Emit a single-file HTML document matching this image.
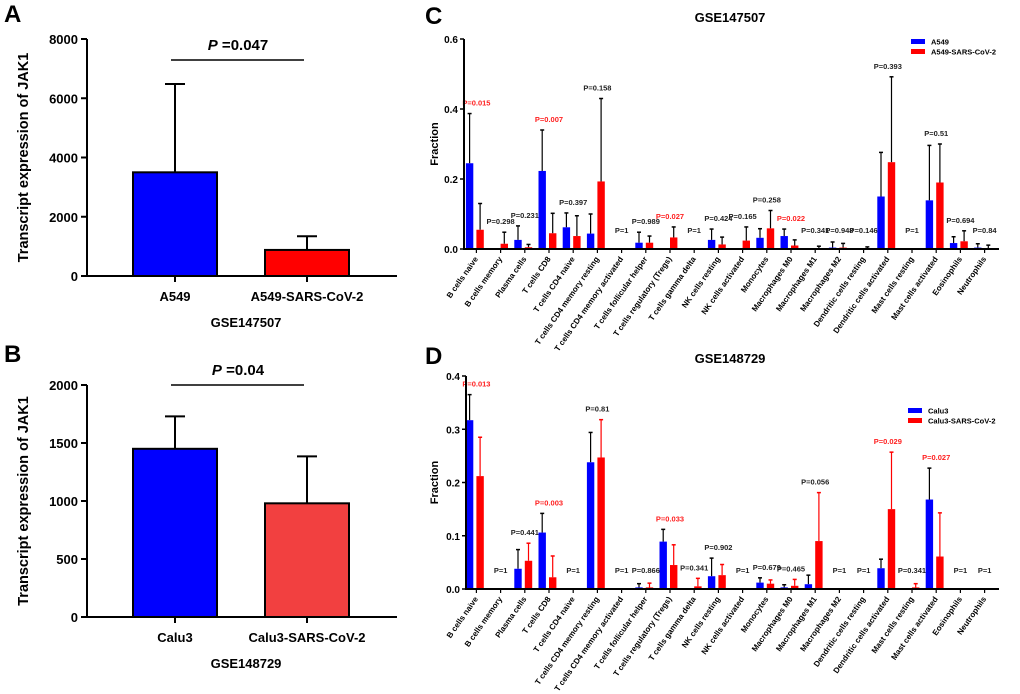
<!DOCTYPE html>
<html><head><meta charset="utf-8">
<style>
body{margin:0;background:#fff;}
svg{display:block;font-family:"Liberation Sans",Arial,sans-serif;font-weight:bold;}
</style></head>
<body>
<svg id="fig" width="1020" height="694" viewBox="0 0 1020 694" xmlns="http://www.w3.org/2000/svg"></svg>
<script>
// Panel A/B data
const abGroupsA = ["A549","A549-SARS-CoV-2"];
const abValuesA = [3500, 880];
const abErrA = [6480, 1340];
const abTicksA = [0,2000,4000,6000,8000];
const abGroupsB = ["Calu3","Calu3-SARS-CoV-2"];
const abValuesB = [1450, 980];
const abErrB = [1730, 1385];
const abTicksB = [0,500,1000,1500,2000];

// Panel C/D data
const cellTypes = ["B cells naive","B cells memory","Plasma cells","T cells CD8","T cells CD4 naive","T cells CD4 memory resting","T cells CD4 memory activated","T cells follicular helper","T cells regulatory (Tregs)","T cells gamma delta","NK cells resting","NK cells activated","Monocytes","Macrophages M0","Macrophages M1","Macrophages M2","Dendritic cells resting","Dendritic cells activated","Mast cells resting","Mast cells activated","Eosinophils","Neutrophils"];
const cCtrl = [0.245,0,0.026,0.223,0.062,0.044,0,0.018,0,0,0.026,0,0.032,0.037,0,0.004,0,0.15,0,0.139,0.017,0.004];
const cCtrlErr = [0.387,0,0.066,0.34,0.103,0.1,0,0.048,0,0,0.057,0,0.058,0.057,0,0.02,0,0.276,0,0.296,0.035,0.015];
const cInf = [0.055,0.015,0.005,0.045,0.037,0.193,0,0.018,0.033,0,0.013,0.024,0.059,0.01,0.002,0.004,0.002,0.248,0,0.19,0.022,0.002];
const cInfErr = [0.13,0.048,0.013,0.102,0.095,0.43,0,0.037,0.063,0,0.034,0.063,0.11,0.026,0.008,0.016,0.006,0.492,0,0.3,0.052,0.011];
const cP = ["P=0.015","P=0.298","P=0.231","P=0.007","P=0.397","P=0.158","P=1","P=0.989","P=0.027","P=1","P=0.424","P=0.165","P=0.258","P=0.022","P=0.341","P=0.948","P=0.146","P=0.393","P=1","P=0.51","P=0.694","P=0.84"];
const cSig = [1,0,0,1,0,0,0,0,1,0,0,0,0,1,0,0,0,0,0,0,0,0];
const cTicks = [0,0.2,0.4,0.6];
const dCtrl = [0.317,0,0.038,0.106,0,0.238,0,0.003,0.089,0,0.024,0,0.012,0.003,0.009,0,0,0.039,0,0.168,0,0];
const dCtrlErr = [0.365,0,0.074,0.142,0,0.294,0,0.01,0.112,0,0.058,0,0.021,0.008,0.026,0,0,0.056,0,0.227,0,0];
const dInf = [0.212,0,0.053,0.022,0,0.247,0,0.003,0.045,0.005,0.026,0,0.01,0.006,0.09,0,0,0.15,0.003,0.061,0,0];
const dInfErr = [0.285,0,0.086,0.062,0,0.318,0,0.011,0.083,0.02,0.046,0,0.017,0.018,0.181,0,0,0.257,0.01,0.143,0,0];
const dP = ["P=0.013","P=1","P=0.441","P=0.003","P=1","P=0.81","P=1","P=0.866","P=0.033","P=0.341","P=0.902","P=1","P=0.679","P=0.465","P=0.056","P=1","P=1","P=0.029","P=0.341","P=0.027","P=1","P=1"];
const dSig = [1,0,0,1,0,0,0,0,1,0,0,0,0,0,0,0,0,1,0,1,0,0];
const dTicks = [0,0.1,0.2,0.3,0.4];

const svg = document.getElementById('fig');
const NS = "http://www.w3.org/2000/svg";
function mk(tag, attrs, text){
  const e = document.createElementNS(NS, tag);
  for (const k in attrs) e.setAttribute(k, attrs[k]);
  if (text !== undefined) e.textContent = text;
  svg.appendChild(e);
  return e;
}

function panelAB(o){
  const sy = v => o.y0 - (v/o.max)*(o.y0-o.yTop);
  let e;
  e = mk('text',{x:4,y:o.letterY,'font-size':24},o.letter);
  
  
  o.values.forEach((v,i)=>{
    const cx = o.xs[i];
    const top = sy(v);
    e = mk('line',{x1:cx,x2:cx,y1:top,y2:sy(o.err[i]),stroke:'#000','stroke-width':2});
    
    
    e = mk('line',{x1:cx-10,x2:cx+10,y1:sy(o.err[i]),y2:sy(o.err[i]),stroke:'#000','stroke-width':2});
    
    
    e = mk('rect',{x:cx-42,y:top,width:84,height:o.y0-top,fill:o.colors[i],stroke:'#000','stroke-width':2});
    
    
    e = mk('line',{x1:cx,x2:cx,y1:o.y0,y2:o.y0+6,stroke:'#000','stroke-width':2});
    
    
    e = mk('text',{x:cx,y:o.y0+25,'font-size':13,'text-anchor':'middle'},o.groups[i]);
    
    
  });
  e = mk('line',{x1:o.ax,x2:o.ax,y1:o.yTop,y2:o.y0+1,stroke:'#000','stroke-width':2});
  
  
  e = mk('line',{x1:o.ax-1,x2:397,y1:o.y0,y2:o.y0,stroke:'#000','stroke-width':2});
  
  
  o.ticks.forEach(t=>{
    e = mk('line',{x1:o.ax-6,x2:o.ax,y1:sy(t),y2:sy(t),stroke:'#000','stroke-width':2});
    
    
    e = mk('text',{x:o.ax-9,y:sy(t)+5,'font-size':13,'text-anchor':'end'},String(t));
    
    
  });
  e = mk('text',{x:0,y:0,'font-size':14.5,'text-anchor':'middle',transform:`translate(28,${(o.y0+o.yTop)/2}) rotate(-90)`},'Transcript expression of  JAK1');
  
  
  e = mk('text',{x:(o.xs[0]+o.xs[1])/2+5,y:o.y0+51,'font-size':13,'text-anchor':'middle'},o.title);
  
  
  e = mk('line',{x1:171,x2:304,y1:o.pLineY,y2:o.pLineY,stroke:'#000','stroke-width':1.5});
  
  
  const t = mk('text',{x:238,y:o.pLineY-10,'font-size':15,'text-anchor':'middle'});
  
  
  const ts = document.createElementNS(NS,'tspan'); ts.setAttribute('font-style','italic'); ts.textContent='P'; t.appendChild(ts);
  t.appendChild(document.createTextNode(' ='+o.p));
}

panelAB({letter:'A',letterY:22,groups:abGroupsA,values:abValuesA,err:abErrA,ticks:abTicksA,max:8000,y0:276,yTop:39,ax:87,xs:[175,307],colors:['#0000ff','#ff0000'],title:'GSE147507',pLineY:60,p:'0.047'});
panelAB({letter:'B',letterY:362,groups:abGroupsB,values:abValuesB,err:abErrB,ticks:abTicksB,max:2000,y0:617,yTop:385,ax:87,xs:[175,307],colors:['#0000ff','#f24040'],title:'GSE148729',pLineY:385,p:'0.04'});

function panelCD(o){
  const sy = v => o.y0 - (v/o.max)*(o.y0-o.yTop);
  const tx = i => 476.4 + i*24.2;
  let e;
  e = mk('text',{x:425,y:o.letterY,'font-size':24},o.letter);
  
  
  e = mk('text',{x:730,y:o.titleY,'font-size':13,'text-anchor':'middle'},o.title);
  
  
  cellTypes.forEach((c,i)=>{
    const t = tx(i);
    const bx = [t-10.5, t];
    [[o.ctrl,o.ctrlErr,'#0000ff','#000'],[o.inf,o.infErr,'#ff0000',o.infErrColor]].forEach((s,k)=>{
      const v = s[0][i], er = s[1][i];
      if (er > 0){
        const cx = bx[k]+3.7;
        e = mk('line',{x1:cx,x2:cx,y1:sy(v),y2:sy(er),stroke:s[3],'stroke-width':1.2});
        
        
        e = mk('line',{x1:cx-2,x2:cx+2,y1:sy(er),y2:sy(er),stroke:s[3],'stroke-width':1.5});
        
        
      }
      if (v > 0){
        e = mk('rect',{x:bx[k],y:sy(v),width:7.4,height:o.y0-sy(v),fill:s[2]});
        
        
      }
    });
    const top = Math.min(sy(o.ctrlErr[i]), sy(o.infErr[i]), o.y0-8);
    e = mk('text',{x:t,y:top-8,'font-size':7.5,'text-anchor':'middle',fill:o.sig[i]?'#ff2020':'#222'},o.p[i]);
    
    
    e = mk('line',{x1:t,x2:t,y1:o.y0,y2:o.y0+4,stroke:'#000','stroke-width':1.2});
    
    
    e = mk('text',{x:0,y:0,'font-size':8,'text-anchor':'end',transform:`translate(${t+2},${o.y0+10}) rotate(-55)`},c);
    
    
  });
  e = mk('line',{x1:o.ax,x2:o.ax,y1:o.yTop,y2:o.y0+1,stroke:'#000','stroke-width':2});
  
  
  e = mk('line',{x1:o.ax-1,x2:999,y1:o.y0,y2:o.y0,stroke:'#000','stroke-width':2});
  
  
  o.ticks.forEach(t=>{
    e = mk('line',{x1:o.ax-4,x2:o.ax,y1:sy(t),y2:sy(t),stroke:'#000','stroke-width':1.5});
    
    
    e = mk('text',{x:o.ax-6,y:sy(t)+4,'font-size':10,'text-anchor':'end'},t.toFixed(1));
    
    
  });
  e = mk('text',{x:0,y:0,'font-size':11,'text-anchor':'middle',transform:`translate(438,${(o.y0+o.yTop)/2}) rotate(-90)`},'Fraction');
  
  
  o.legend.forEach((l,k)=>{
    e = mk('rect',{x:o.legX,y:o.legY+k*10-3,width:14,height:5,fill:k?'#ff0000':'#0000ff'});
    
    
    e = mk('text',{x:o.legX+20,y:o.legY+k*10+2.5,'font-size':7.5},l);
    
    
  });
}

panelCD({letter:'C',letterY:24,title:'GSE147507',titleY:22,y0:249,yTop:39,max:0.6,ax:464,ticks:cTicks,ctrl:cCtrl,ctrlErr:cCtrlErr,inf:cInf,infErr:cInfErr,p:cP,sig:cSig,infErrColor:'#000',legend:['A549','A549-SARS-CoV-2'],legX:911,legY:42});
panelCD({letter:'D',letterY:364,title:'GSE148729',titleY:363,y0:589,yTop:376,max:0.4,ax:466,ticks:dTicks,ctrl:dCtrl,ctrlErr:dCtrlErr,inf:dInf,infErr:dInfErr,p:dP,sig:dSig,infErrColor:'#ff0000',legend:['Calu3','Calu3-SARS-CoV-2'],legX:908,legY:411});
</script>
</body></html>
